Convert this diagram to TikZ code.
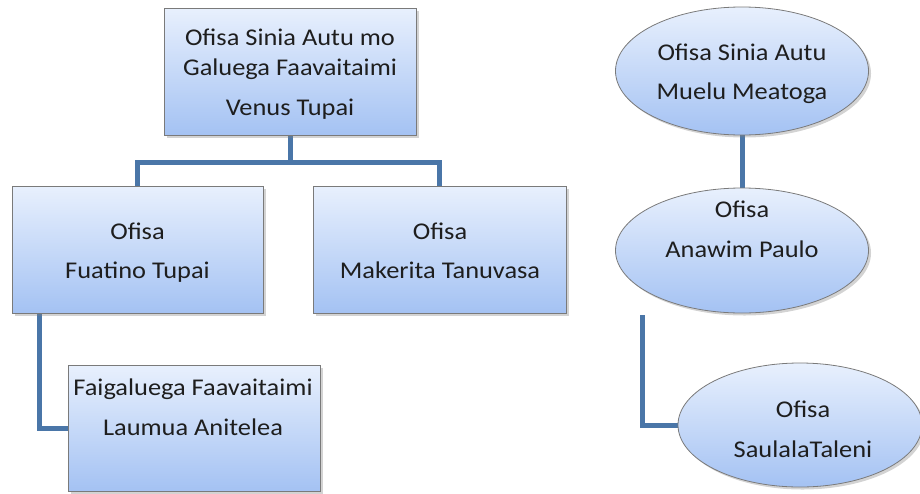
\documentclass[tikz,border=0pt]{standalone}
\usepackage{fontspec}
\setmainfont{Carlito}[FakeStretch=1.1]
\usetikzlibrary{shadows,shapes.geometric,backgrounds}
\definecolor{boxtop}{HTML}{E8F0FD}
\definecolor{boxbot}{HTML}{A4C2F3}
\definecolor{boxline}{HTML}{7A7A7A}
\definecolor{conn}{HTML}{4A76A8}
\definecolor{txt}{HTML}{1E1E1E}
\tikzset{
  orgbox/.style={rectangle, draw=boxline, line width=0.8pt, top color=boxtop, bottom color=boxbot,
    drop shadow={opacity=0.35, shadow xshift=2.5pt, shadow yshift=-2.5pt}},
  orgell/.style={ellipse, draw=boxline, line width=0.8pt, top color=boxtop, bottom color=boxbot, inner sep=0pt,
    drop shadow={opacity=0.35, shadow xshift=2.5pt, shadow yshift=-2.5pt}},
  lbl/.style={anchor=base, text=txt, font=\fontsize{24}{28}\selectfont, inner sep=0pt},
  link/.style={draw=conn, line width=5pt}
}
\begin{document}
\begin{tikzpicture}[x=1pt,y=-1pt]
\useasboundingbox (0,0) rectangle (920,493);
\node[orgbox, minimum width=252pt, minimum height=127pt] (top) at (290,71.5) {};
\node[orgbox, minimum width=251pt, minimum height=127pt] (fua) at (137.5,249.5) {};
\node[orgbox, minimum width=253pt, minimum height=127pt] (mak) at (439.5,249.5) {};
\node[orgbox, minimum width=252pt, minimum height=126pt] (lau) at (194,428) {};
\node[orgell, minimum width=253pt, minimum height=128pt] (mue) at (742,71) {};
\node[orgell, minimum width=253pt, minimum height=125pt] (ana) at (742,250.5) {};
\node[orgell, minimum width=244pt, minimum height=124pt] (sau) at (800,425) {};
\coordinate (bar) at (290,162);
\coordinate (sstart) at (642,315);
\begin{scope}[on background layer]
\draw[link] (top.south) -- (bar);
\draw[link] (fua.north) |- (bar) -| (mak.north);
\draw[link] (fua.south -| 39,0) |- (lau.west);
\draw[link] (mue.south) -- (ana.north);
\draw[link] (sstart) |- (sau.west);
\end{scope}
% texts
\node[lbl] (t1) at (290,45) {Ofisa Sinia Autu mo};
\node[lbl] (t2) at (290,75) {Galuega Faavaitaimi};
\node[lbl] (t3) at (290,115) {Venus Tupai};
\node[lbl] (f1) at (137.5,239) {Ofisa};
\node[lbl] (f2) at (137.5,278) {Fuatino Tupai};
\node[lbl] (m1) at (440,239) {Ofisa};
\node[lbl] (m2) at (440,278) {Makerita Tanuvasa};
\node[lbl] (l1) at (193,395) {Faigaluega Faavaitaimi};
\node[lbl] (l2) at (193,435) {Laumua Anitelea};
\node[lbl] (e1) at (742,60) {Ofisa Sinia Autu};
\node[lbl] (e2) at (742,99) {Muelu Meatoga};
\node[lbl] (a1) at (742,217) {Ofisa};
\node[lbl] (a2) at (742,257) {Anawim Paulo};
\node[lbl] (s1) at (803,417) {Ofisa};
\node[lbl] (s2) at (803,457) {SaulalaTaleni};
\end{tikzpicture}
\end{document}
